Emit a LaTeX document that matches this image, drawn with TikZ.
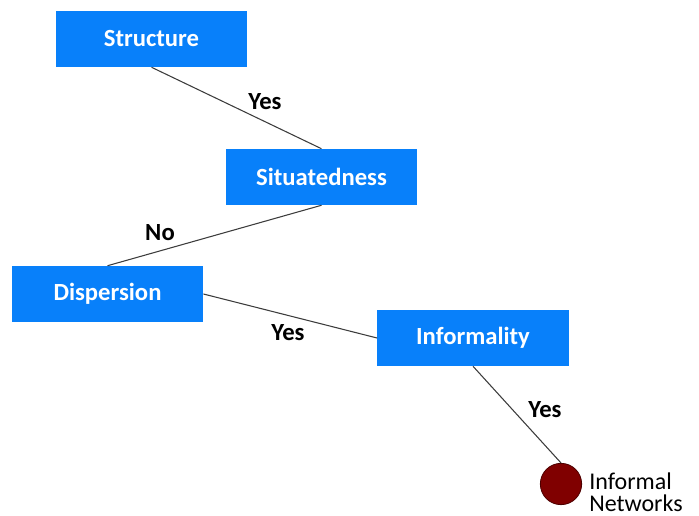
\documentclass[tikz,border=0pt]{standalone}
\usepackage{fontspec}
\setmainfont{Carlito}
\definecolor{boxblue}{RGB}{8,128,250}
\definecolor{darkred}{RGB}{128,0,0}
\definecolor{linegray}{RGB}{60,60,60}
\begin{document}
\begin{tikzpicture}[x=0.75pt,y=-0.75pt,
  box/.style={fill=boxblue,draw=none,minimum width=143.5pt,minimum height=42pt,inner sep=0pt,
    text=white,font=\fontsize{18.5}{21}\selectfont\bfseries},
  lbl/.style={font=\fontsize{18.5}{21}\selectfont\bfseries,text=black,inner sep=0pt},
  conn/.style={draw=linegray,line width=0.8pt}]
\useasboundingbox (0,0) rectangle (699,516);
\node[box] (structure) at (151.5,39) {Structure};
\node[box] (situ) at (321.5,177) {Situatedness};
\node[box] (disp) at (107.5,294) {Dispersion};
\node[box] (inf) at (473,338) {Informality};
\node[circle,fill=darkred,draw=darkred!60!black,line width=0.6pt,minimum size=31pt,inner sep=0pt] (net) at (561,484) {};
\node[anchor=west,align=left,inner sep=0pt,font=\fontsize{18}{16.5}\selectfont] (netlbl) at (589,492) {Informal\\Networks};
\draw[conn] (structure.south) -- (situ.north);
\draw[conn] (situ.south) -- (disp.north);
\draw[conn] (disp.east) -- (inf.west);
\draw[conn] (inf.south) -- (net.north);
\node[lbl] (l1) at (265,102) {Yes};
\node[lbl] (l2) at (160,233) {No};
\node[lbl] (l3) at (288,333) {Yes};
\node[lbl] (l4) at (545,410) {Yes};
\end{tikzpicture}
\end{document}
